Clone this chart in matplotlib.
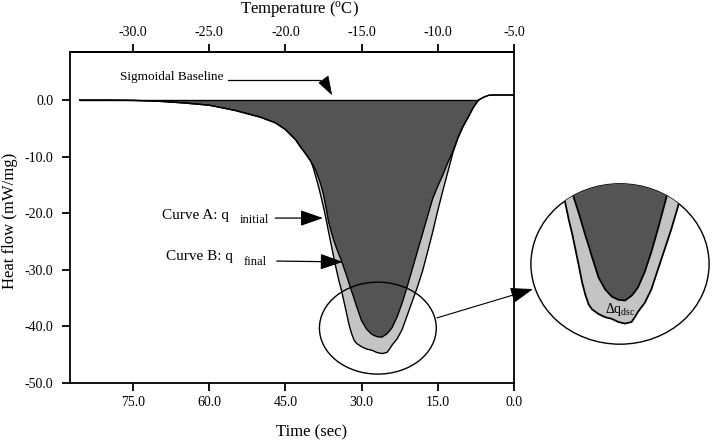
import matplotlib
matplotlib.use("Agg")
import matplotlib.pyplot as plt
import numpy as np
from matplotlib.patches import Ellipse, Polygon

plt.rcParams['font.family'] = ['Liberation Serif', 'DejaVu Serif']
plt.rcParams['mathtext.fontset'] = 'custom'
plt.rcParams['mathtext.rm'] = 'Liberation Serif'
plt.rcParams['mathtext.it'] = 'Liberation Serif:italic'
plt.rcParams['axes.unicode_minus'] = False

# ---- data (time in sec, heat flow in mW/mg) ----
time_s = [85.5, 80, 75, 70, 65, 60, 55, 50, 47, 45, 43, 42, 41, 40, 39.5, 39, 38.5, 38,
          37.5, 37, 36.5, 36, 35.5, 35, 34.5, 34, 33.5, 33, 32.5, 32, 31.5, 31, 30, 29,
          28, 27, 26, 25, 24.5, 24, 23, 22, 21, 20, 19, 18, 17, 16, 15, 14, 13, 12.5,
          12, 11, 10, 9, 8, 7, 6, 5, 4, 0]
curve_a = [0.0, 0.0, -0.05, -0.2, -0.5, -0.9, -1.8, -3.0, -4.0, -5.2, -7.0, -8.3, -9.5, -10.8,
           -11.6, -12.5, -13.7, -15.0, -16.7, -19.0, -21.5, -23.2, -24.7, -26.0, -27.2, -28.3,
           -29.6, -30.9, -32.3, -33.7, -35.0, -36.4, -39.0, -40.5, -41.4, -41.8, -41.9, -41.3,
           -40.8, -40.2, -38.3, -35.8, -32.9, -29.8, -26.7, -23.6, -20.5, -17.4, -15.2, -13.2,
           -11.0, -10.0, -9.0, -6.6, -4.6, -3.0, -1.3, 0.0, 0.5, 0.85, 0.9, 0.9]
curve_b = [0.0, 0.0, -0.05, -0.2, -0.5, -0.9, -1.8, -3.0, -4.0, -5.2, -7.0, -8.3, -9.5, -10.8,
           -12.0, -13.6, -15.2, -17.0, -18.9, -21.0, -23.3, -25.5, -27.7, -29.8, -31.8, -33.5,
           -35.5, -37.5, -39.6, -41.2, -42.4, -43.0, -43.6, -44.0, -44.2, -44.6, -44.8, -44.6,
           -44.0, -43.3, -42.2, -40.5, -38.0, -35.5, -33.0, -30.2, -26.8, -23.3, -19.5, -16.0,
           -12.6, -10.9, -9.2, -6.6, -4.6, -3.0, -1.3, 0.0, 0.5, 0.85, 0.9, 0.9]
baseline_t = [85.5, 7.0]
baseline_v = [0.0, 0.0]

time_ticks = [75, 60, 45, 30, 15, 0]
temp_ticks = [-30, -25, -20, -15, -10, -5]
flow_ticks = [0, -10, -20, -30, -40, -50]

DARK = '#545454'
LIGHT = '#c4c4c4'

t = np.array(time_s)
a = np.array(curve_a)
b = np.array(curve_b)


def draw_curves(axis, lw=1.0, clip=None):
    arts = []
    arts.append(axis.fill_between(t, b, a, where=b < a, interpolate=True,
                                  facecolor=LIGHT, edgecolor='none', zorder=1))
    arts.append(axis.fill_between(t, a, 0, where=a < 0, interpolate=True,
                                  facecolor=DARK, edgecolor='none', zorder=2))
    arts += axis.plot(t, b, color='black', lw=lw, zorder=3)
    arts += axis.plot(t, a, color='black', lw=lw, zorder=3)
    arts += axis.plot(baseline_t, baseline_v, color='black', lw=lw, zorder=3)
    if clip is not None:
        for art in arts:
            art.set_clip_path(clip)
    return arts


fig = plt.figure(figsize=(7.12, 4.41), dpi=100)
ax = fig.add_axes([70 / 712, 58 / 441, 444 / 712, 331 / 441])

draw_curves(ax)

ax.set_xlim(87.4, 0)
ax.set_ylim(-50, 8.5)
ax.set_xticks(time_ticks)
ax.set_xticklabels([f"{v:.1f}" for v in time_ticks])
ax.set_yticks(flow_ticks)
ax.set_yticklabels([f"{v:.1f}" for v in flow_ticks])
ax.tick_params(axis='x', which='both', direction='out', length=6, width=1.3,
               labelsize=10, pad=3.5, top=False)
ax.tick_params(axis='y', which='both', direction='out', length=6, width=1.3,
               labelsize=10, pad=6, right=False)
for sp in ax.spines.values():
    sp.set_linewidth(1.3)

ax.set_xlabel('Time (sec)', fontsize=12)
ax.xaxis.set_label_coords(0.543, -0.125)
ax.set_ylabel('Heat flow (mW/mg)', fontsize=12)
ax.yaxis.set_label_coords(-0.118, 0.49)

secax = ax.secondary_xaxis('top', functions=(lambda x: -5 - np.asarray(x) / 3.0,
                                              lambda T: -3.0 * (np.asarray(T) + 5)))
secax.set_xticks(temp_ticks)
secax.set_xticklabels([f"{v:.1f}" for v in temp_ticks])
secax.tick_params(axis='x', direction='out', length=6, width=1.3, labelsize=10, pad=3)
secax.spines['top'].set_linewidth(1.3)
secax.set_xlabel(r'Temperature ($^{\mathrm{o}}$C)', fontsize=12)
secax.xaxis.set_label_coords(0.516, 1.118, transform=ax.transAxes)
secax.xaxis.label.set_verticalalignment('baseline')

# ---- annotations ----
ax.text(77.6, 3.6, 'Sigmoidal Baseline', fontsize=9.5, va='baseline', ha='left')
ax.plot([56.3, 38.2], [3.53, 3.53], color='black', lw=0.9)
ax.add_patch(Polygon([(38.4, 3.06), (36.6, 4.24), (35.9, 1.0)], closed=True,
                     facecolor='black', edgecolor='black', lw=0.5))

ax.text(69.3, -21.0, 'Curve A: q', fontsize=11, va='baseline', ha='left')
ax.text(53.9, -21.7, 'initial', fontsize=9, va='baseline', ha='left')
ax.annotate('', xy=(37.6, -20.85), xytext=(47.0, -20.85),
            arrowprops=dict(arrowstyle='-|>,head_length=1.0,head_width=0.35',
                            mutation_scale=14, lw=0.9, color='black',
                            shrinkA=0, shrinkB=0))

ax.text(68.5, -28.3, 'Curve B: q', fontsize=11, va='baseline', ha='left')
ax.text(53.3, -29.2, 'final', fontsize=9, va='baseline', ha='left')
ax.annotate('', xy=(33.7, -28.6), xytext=(46.7, -28.45),
            arrowprops=dict(arrowstyle='-|>,head_length=1.0,head_width=0.35',
                            mutation_scale=14, lw=0.9, color='black',
                            shrinkA=0, shrinkB=0))

ax.add_patch(Ellipse((26.8, -40.3), 23.0, 16.25, facecolor='none', edgecolor='black',
                     lw=1.0, zorder=4))
ax.annotate('', xy=(-3.74, -33.4), xytext=(15.2, -38.5), annotation_clip=False,
            arrowprops=dict(arrowstyle='-|>,head_length=1.0,head_width=0.35',
                            mutation_scale=14, lw=0.8, color='black',
                            shrinkA=0, shrinkB=0))

# ---- magnified inset ----
ax_in = fig.add_axes([530 / 712, 96 / 441, 180 / 712, 162 / 441])
ax_in.set_xlim(40.4, 13.1)
ax_in.set_ylim(-47.5, -27.1)
ax_in.axis('off')
ax_in.patch.set_visible(False)
clip = Ellipse((0.5, 0.5), 0.99, 0.99, transform=ax_in.transAxes,
               facecolor='none', edgecolor='black', lw=1.0)
ax_in.add_patch(clip)
clip.set_clip_on(False)
draw_curves(ax_in, lw=1.3, clip=clip)
ax_in.text(0.5, 0.222, r'$\Delta\mathrm{q}_{\mathrm{dsc}}$', transform=ax_in.transAxes,
           fontsize=10, ha='center', va='center')

fig.savefig('out.png', dpi=100)
